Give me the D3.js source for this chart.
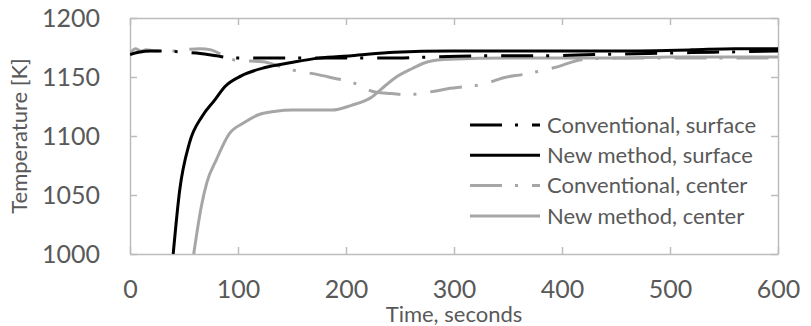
<!DOCTYPE html>
<html>
<head>
<meta charset="utf-8">
<script src="https://d3js.org/d3.v7.min.js"></script>
<style>
  body { margin: 0; background: #fff; }
  text { font-family: Lato, "Open Sans", sans-serif; fill: #595959; }
</style>
</head>
<body>
<div id="viz"></div>
<script>
// [time (s), temperature (K)]
var convSurface = [[0,1169],[8,1171],[20,1172],[35,1172],[50,1171],[65,1170],[80,1168],[95,1166],
    [120,1166],[160,1166],[200,1166],[240,1166],[280,1167],[330,1168],[380,1168],[430,1169],
    [480,1170],[540,1171],[600,1172]];
var newSurface = [[40,1000],[46,1054],[55,1094],[67,1117],[78,1130],[88,1142],[103,1151],[125,1158],
    [148,1162],[175,1166],[205,1168],[245,1171],[296,1172],[350,1172],[400,1172],[450,1172],
    [520,1173],[560,1174],[600,1174]];
var convCenter = [[0,1170],[5,1174],[10,1172],[15,1173],[25,1172],[40,1172],[50,1173],[65,1174],
    [75,1173],[85,1169],[99,1164],[123,1163],[139,1159],[150,1156],[162,1154],[174,1152],
    [189,1149],[204,1146],[228,1137],[242,1136],[256,1135],[282,1138],[294,1140],[327,1144],
    [349,1150],[363,1152],[393,1158],[420,1165],[449,1166],[500,1166],[550,1166],[600,1166]];
var newCenter = [[59,1000],[66,1040],[71,1060],[80,1080],[92,1102],[105,1111],[119,1118],[135,1121],
    [150,1122],[187,1122],[205,1126],[224,1133],[233,1140],[245,1149],[261,1157],[276,1163],
    [296,1165],[350,1166],[400,1166],[450,1166],[500,1167],[600,1167]];

var xTicks = [0, 100, 200, 300, 400, 500, 600];
var yTicks = [1000, 1050, 1100, 1150, 1200];
var legendNames = ["Conventional, surface", "New method, surface", "Conventional, center", "New method, center"];

var margin = {top: 18, right: 33, bottom: 72, left: 130},
    width = 811 - margin.left - margin.right,
    height = 326 - margin.top - margin.bottom;

var svg = d3.select("#viz")
    .append("svg")
    .attr("width", 811)
    .attr("height", 326)
    .append("g")
    .attr("transform", "translate(" + margin.left + "," + margin.top + ")");

var x = d3.scaleLinear().domain([0, 600]).range([0, width]);
var y = d3.scaleLinear().domain([1000, 1200]).range([height, 0]);

var axisColor = "#bcbcbc";

function styleAxis(g) {
    g.selectAll("path, line").attr("stroke", axisColor).attr("stroke-width", 1.5);
    g.selectAll("text").attr("fill", "#595959").style("font-size", "25px")
        .style("font-family", "Lato, 'Open Sans', sans-serif");
}

// box with inward ticks on all four sides
svg.append("g")
    .attr("transform", "translate(0," + height + ")")
    .call(d3.axisBottom(x).tickValues(xTicks).tickFormat(d3.format("d"))
        .tickSizeInner(-7).tickSizeOuter(0).tickPadding(26))
    .call(styleAxis);
svg.append("g")
    .call(d3.axisTop(x).tickValues(xTicks).tickSizeInner(-7).tickSizeOuter(0).tickFormat(""))
    .call(styleAxis);
svg.append("g")
    .call(d3.axisLeft(y).tickValues(yTicks).tickFormat(d3.format("d"))
        .tickSizeInner(-7).tickSizeOuter(0).tickPadding(30))
    .call(styleAxis);
svg.append("g")
    .attr("transform", "translate(" + width + ",0)")
    .call(d3.axisRight(y).tickValues(yTicks).tickSizeInner(-7).tickSizeOuter(0).tickFormat(""))
    .call(styleAxis);

// axis titles
svg.append("text")
    .attr("x", width / 2)
    .attr("y", height + 68)
    .attr("text-anchor", "middle")
    .style("font-size", "22px")
    .text("Time, seconds");

svg.append("text")
    .attr("transform", "translate(" + (27 - margin.left) + "," + (height / 2) + ") rotate(-90)")
    .attr("text-anchor", "middle")
    .style("font-size", "22px")
    .text("Temperature [K]");

svg.append("clipPath").attr("id", "clip")
    .append("rect").attr("width", width).attr("height", height);

var line = d3.line()
    .curve(d3.curveMonotoneX)
    .x(function (d) { return x(d[0]); })
    .y(function (d) { return y(d[1]); });

var dashDot = "32,13,3,14";
var series = [
    {data: newCenter, color: "#a6a6a6", dash: null},
    {data: convCenter, color: "#a6a6a6", dash: dashDot},
    {data: newSurface, color: "#000", dash: null},
    {data: convSurface, color: "#000", dash: dashDot}
];

var plot = svg.append("g").attr("clip-path", "url(#clip)");
series.forEach(function (s) {
    plot.append("path")
        .datum(s.data)
        .attr("fill", "none")
        .attr("stroke", s.color)
        .attr("stroke-width", 3)
        .attr("stroke-dasharray", s.dash)
        .attr("d", line);
});

// legend
var legendStyle = [series[3], series[2], series[1], series[0]];
var legend = svg.append("g").attr("transform", "translate(" + (470 - margin.left) + "," + (125 - margin.top) + ")");
legendNames.forEach(function (name, i) {
    var row = legend.append("g").attr("transform", "translate(0," + (i * 30.3) + ")");
    row.append("line")
        .attr("x1", 0).attr("x2", 70)
        .attr("stroke", legendStyle[i].color)
        .attr("stroke-width", 3)
        .attr("stroke-dasharray", legendStyle[i].dash);
    row.append("text")
        .attr("x", 77)
        .attr("dy", "0.35em")
        .style("font-size", "22px")
        .text(name);
});
</script>
</body>
</html>
